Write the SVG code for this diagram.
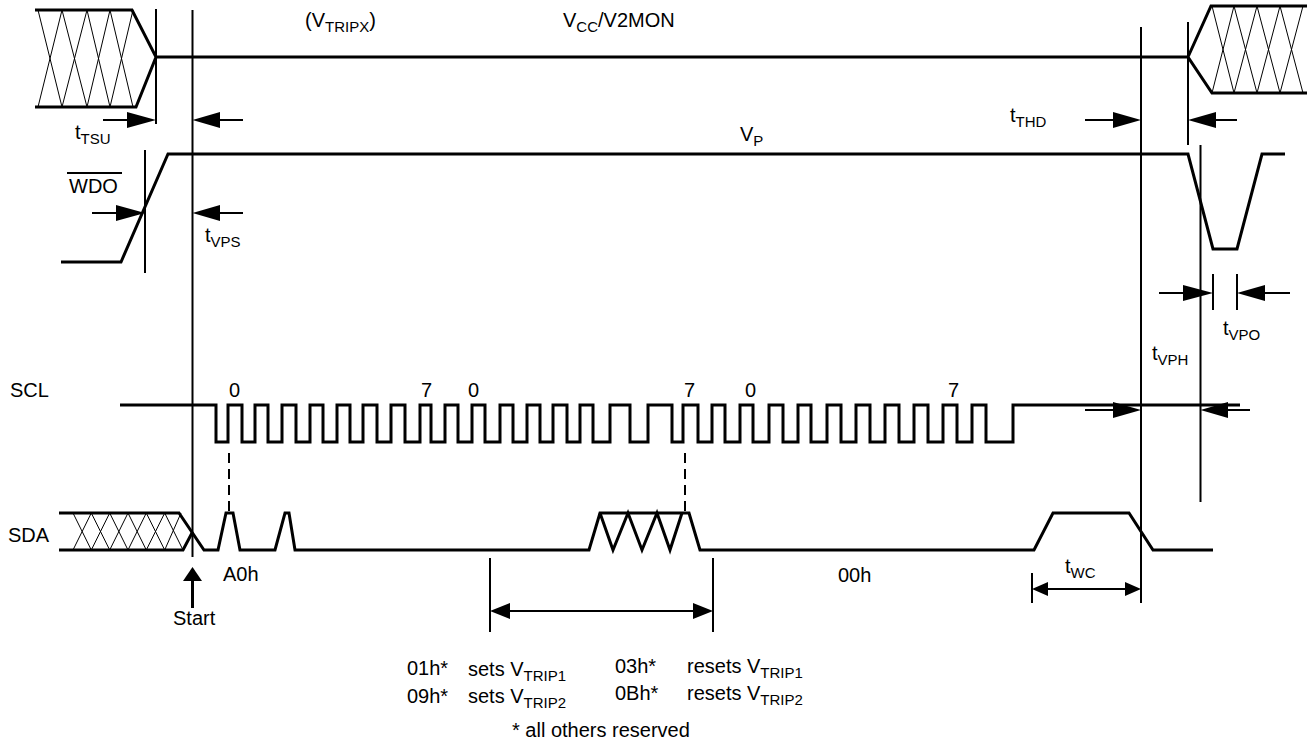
<svg xmlns="http://www.w3.org/2000/svg" width="1311" height="751" viewBox="0 0 1311 751">
<style>
text{font-family:"Liberation Sans",Arial,sans-serif;font-size:20px;fill:#000}
.sub{font-size:15px}
.w{fill:none;stroke:#000;stroke-width:3;stroke-linejoin:miter}
.v{stroke:#000;stroke-width:2;fill:none}
.h{stroke:#000;stroke-width:1;fill:none}
.d{stroke:#000;stroke-width:2;stroke-dasharray:10 6;fill:none}
.a{fill:#000;stroke:none}
</style>
<rect width="1311" height="751" fill="#fff"/>
<g id="vcc">
<path class="w" d="M35,10 H132 L156,57 L136,107 H35"/>
<path class="h" d="M38,10 L62,107 M62,10 L38,107 M62,10 L87,107 M87,10 L62,107 M87,10 L110,107 M110,10 L87,107 M110,10 L133,107 M133,10 L110,107"/>
<path class="w" d="M156,57 H1188"/>
<path class="w" d="M1307,6 H1211 L1188,57 L1212,93 H1307"/>
<path class="h" d="M1212,6 L1234,93 M1234,6 L1212,93 M1234,6 L1257,93 M1257,6 L1234,93 M1257,6 L1280,93 M1280,6 L1257,93 M1280,6 L1303,93 M1303,6 L1280,93"/>
</g>
<g id="wdo">
<path class="w" d="M61,262 H121 L168,154 H1188 L1213,249 H1237 L1262,154 H1285"/>
</g>
<g id="scl">
<path class="w" d="M120,405 H216 V442 H228 V405 H242 V442 H255 V405 H268 V442 H282 V405 H296 V442 H310 V405 H323 V442 H337 V405 H350 V442 H363 V405 H377 V442 H391 V405 H405 V442 H420 V405 H431 V442 H445 V405 H458 V442 H472 V405 H485 V442 H500 V405 H513 V442 H527 V405 H540 V442 H553 V405 H567 V442 H580 V405 H593 V442 H610 V405 H630 V442 H648 V405 H672 V442 H683 V405 H698 V442 H712 V405 H725 V442 H740 V405 H753 V442 H769 V405 H783 V442 H798 V405 H811 V442 H827 V405 H841 V442 H856 V405 H870 V442 H885 V405 H899 V442 H914 V405 H928 V442 H943 V405 H957 V442 H972 V405 H986 V442 H1013 V405 H1240"/>
</g>
<g id="sda">
<path class="w" d="M59,513 H179 L204,550 H218 L226,513 H233 L240,550 H275 L285,513 H289 L295,550 H589 L600,513 H689 L700,550 H1034 L1053,513 H1129 L1153,550 H1213"/>
<path class="w" d="M59,550 H183 L192.5,532"/>
<path class="h" d="M73,513 L91.3,550 M91.3,513 L73,550 M91.3,513 L109.7,550 M109.7,513 L91.3,550 M109.7,513 L128,550 M128,513 L109.7,550 M128,513 L146.3,550 M146.3,513 L128,550 M146.3,513 L164.7,550 M164.7,513 L146.3,550 M164.7,513 L183,550 M181,513 L164.7,550"/>
<path class="w" d="M600,513 L613,550 L628,513 L642,550 L657,513 L670,550 L682,513"/>
</g>
<g id="connectors">
<path class="v" d="M156,9 V124 M192.5,10 V557 M1141,27 V603 M1188,22 V145 M1200.5,145 V502 M145,150 V273 M1213,274 V310 M1237,274 V310"/>
<path class="d" d="M229,453 V513 M685,453 V512"/>
<path class="v" d="M103,120 H130 M220,120 H243 M1085,120 H1115 M1214,120 H1237 M92,213 H118 M218,213 H243 M1159,293 H1185 M1263,293 H1290 M1085,410 H1115 M1226,410 H1250"/>
<path class="a" d="M156,120 L127,112 L127,128 Z M192.5,120 L220,112 L220,128 Z M1141,120 L1113,112 L1113,128 Z M1188,120 L1216,112 L1216,128 Z M145,213 L116,205 L116,221 Z M192.5,213 L220,205 L220,221 Z M1213,293 L1183,285 L1183,301 Z M1237,293 L1265,285 L1265,301 Z M1141,410 L1113,402 L1113,418 Z M1200.5,410 L1228,402 L1228,418 Z"/>
<path class="a" d="M192.5,567 L183,581 L202,581 Z"/>
<path class="w" d="M192.5,580 V608"/>
<path class="v" d="M490,558 V632 M713,558 V632 M505,611 H698 M1032,573 V603 M1045,589 H1128"/>
<path class="a" d="M490,611 L510,603 L510,619 Z M713,611 L693,603 L693,619 Z M1032,589 L1048,582 L1048,596 Z M1141,589 L1125,582 L1125,596 Z"/>
<path class="v" d="M67,173 H122" stroke-width="1.5"/>
</g>
<g id="labels">
<text x="305" y="27">(V<tspan class="sub" dy="5">TRIPX</tspan><tspan dy="-5">)</tspan></text>
<text x="563" y="27">V<tspan class="sub" dy="5">CC</tspan><tspan dy="-5">/V2MON</tspan></text>
<text x="740" y="141">V<tspan class="sub" dy="5">P</tspan></text>
<text x="1010" y="122">t<tspan class="sub" dy="5">THD</tspan></text>
<text x="75" y="139">t<tspan class="sub" dy="5">TSU</tspan></text>
<text x="69" y="193">WDO</text>
<text x="205" y="242">t<tspan class="sub" dy="5">VPS</tspan></text>
<text x="1223" y="335">t<tspan class="sub" dy="5">VPO</tspan></text>
<text x="1152" y="360">t<tspan class="sub" dy="5">VPH</tspan></text>
<text x="10" y="397">SCL</text>
<text x="229" y="397">0</text>
<text x="421" y="397">7</text>
<text x="468" y="397">0</text>
<text x="684" y="397">7</text>
<text x="745" y="397">0</text>
<text x="948" y="397">7</text>
<text x="8" y="542">SDA</text>
<text x="223" y="581">A0h</text>
<text x="173" y="625">Start</text>
<text x="838" y="582">00h</text>
<text x="1065" y="573">t<tspan class="sub" dy="5">WC</tspan></text>
<text x="407" y="675">01h*</text>
<text x="468" y="676">sets V<tspan class="sub" dy="5">TRIP1</tspan></text>
<text x="615" y="673">03h*</text>
<text x="687" y="673">resets V<tspan class="sub" dy="5">TRIP1</tspan></text>
<text x="407" y="703">09h*</text>
<text x="468" y="703">sets V<tspan class="sub" dy="5">TRIP2</tspan></text>
<text x="615" y="700">0Bh*</text>
<text x="687" y="700">resets V<tspan class="sub" dy="5">TRIP2</tspan></text>
<text x="512" y="737">* all others reserved</text>
</g>
</svg>
